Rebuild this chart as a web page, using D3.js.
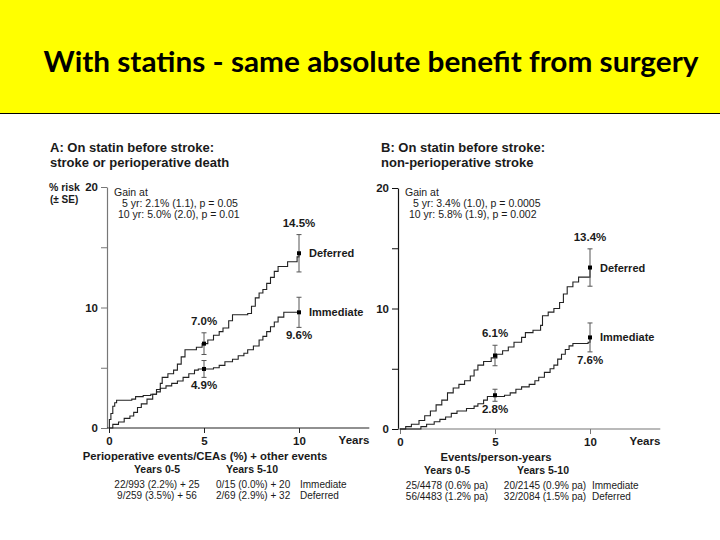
<!DOCTYPE html>
<html><head><meta charset="utf-8">
<script src="https://cdn.jsdelivr.net/npm/d3@7"></script>
<style>body{margin:0;background:#fff}svg{display:block}text{font-family:"Liberation Sans",Arial,sans-serif}</style>
</head><body><svg id="c" width="720" height="540"></svg>
<script>
// ---------- data ----------
const title = "With statins - same absolute benefit from surgery";
const xTicks = [0, 5, 10];
const yTicks = [0, 5, 10, 15, 20];
const yTickLabels = {0: "0", 10: "10", 20: "20"};
const markYears = [5, 10];

// Panel A: stroke or perioperative death (step curves, % risk by year)
const A_immediate = [[0,0],[0.02,0.7],[0.1,1.2],[0.2,1.8],[0.3,2.1],[0.4,2.3],[1.2,2.4],[1.4,2.6],[1.8,2.7],[2.2,2.8],[2.5,3.0],[2.7,3.3],[3.0,3.5],[3.3,3.7],[3.6,3.9],[3.9,4.2],[4.2,4.5],[4.5,4.8],[4.7,4.9],[5.5,5.0],[5.8,5.2],[6.1,5.5],[6.5,5.7],[6.8,6.0],[7.1,6.2],[7.3,6.5],[7.6,6.8],[7.9,7.3],[8.1,7.6],[8.3,8.0],[8.5,8.4],[8.7,8.8],[8.9,9.2],[9.2,9.6],[10,9.6]];
const A_deferred = [[0,0],[0.2,0.3],[0.5,0.5],[0.8,0.8],[1.1,1.0],[1.3,1.3],[1.5,1.7],[1.7,2.0],[2.0,2.4],[2.3,2.8],[2.5,3.2],[2.7,3.7],[2.8,4.2],[3.1,4.5],[3.4,4.8],[3.6,5.3],[3.8,5.9],[4.0,6.5],[4.6,6.7],[4.9,7.0],[5.2,7.3],[5.5,7.7],[5.8,8.0],[6.0,8.3],[6.3,8.9],[6.5,9.4],[7.3,9.5],[7.5,10.1],[7.7,10.8],[7.9,11.2],[8.1,11.5],[8.3,12.0],[8.5,12.5],[8.7,13.0],[8.9,13.4],[9.4,13.8],[9.9,14.2],[10,14.5]];
const A_defEst = [7.0, 14.5], A_defSE = [0.9, 1.55];
const A_immEst = [4.9, 9.6],  A_immSE = [0.7, 1.25];

// Panel B: non-perioperative stroke
const B_deferred = [[0,0],[0.3,0.2],[0.6,0.4],[1.0,0.7],[1.3,1.1],[1.6,1.5],[1.9,2.0],[2.2,2.4],[2.5,3.0],[2.8,3.4],[3.1,3.7],[3.4,4.0],[3.7,4.4],[3.9,4.9],[4.1,5.3],[4.4,5.6],[4.8,5.9],[5.1,6.2],[5.4,6.5],[5.7,6.8],[6.0,7.2],[6.4,7.6],[6.6,8.0],[7.0,8.2],[7.4,8.6],[7.5,9.4],[7.8,9.7],[8.1,10.0],[8.4,10.5],[8.6,11.2],[8.8,11.8],[9.1,12.2],[9.4,12.6],[9.9,12.6],[10,13.4]];
const B_immediate = [[0,0],[1.1,0.2],[1.4,0.4],[1.8,0.6],[2.1,0.8],[2.4,1.0],[2.7,1.3],[3.0,1.5],[3.5,1.7],[3.9,1.9],[4.1,2.1],[4.4,2.4],[4.6,2.7],[5.5,2.8],[5.8,3.0],[6.1,3.3],[6.4,3.5],[6.8,3.7],[7.1,4.0],[7.3,4.3],[7.6,4.7],[7.9,5.0],[8.1,5.3],[8.3,5.8],[8.5,6.2],[8.7,6.6],[8.9,6.9],[9.1,7.1],[9.9,7.2],[10,7.6]];
const B_defEst = [6.1, 13.4], B_defSE = [0.85, 1.55];
const B_immEst = [2.8, 7.6],  B_immSE = [0.5, 1.2];

const A_titleLines = ["A: On statin before stroke:", "stroke or perioperative death"];
const B_titleLines = ["B: On statin before stroke:", "non-perioperative stroke"];
const A_gain = ["Gain at", "5 yr: 2.1% (1.1), p = 0.05", "10 yr: 5.0% (2.0), p = 0.01"];
const B_gain = ["Gain at", "5 yr: 3.4% (1.0), p = 0.0005", "10 yr: 5.8% (1.9), p = 0.002"];
const A_footTitle = "Perioperative events/CEAs (%) + other events";
const B_footTitle = "Events/person-years";
const footCols = ["Years 0-5", "Years 5-10"];
const A_footRows = [["22/993 (2.2%) + 25", "0/15 (0.0%) + 20", "Immediate"], ["9/259 (3.5%) + 56", "2/69 (2.9%) + 32", "Deferred"]];
const B_footRows = [["25/4478 (0.6% pa)", "20/2145 (0.9% pa)", "Immediate"], ["56/4483 (1.2% pa)", "32/2084 (1.5% pa)", "Deferred"]];

// ---------- drawing ----------
const svg = d3.select("#c");
svg.append("rect").attr("x",0).attr("y",0).attr("width",720).attr("height",113).attr("fill","#ffff00");
svg.append("line").attr("x1",0).attr("x2",720).attr("y1",113.5).attr("y2",113.5).attr("stroke","#000").attr("stroke-width",1);
svg.append("text").attr("x",371).attr("y",72).attr("text-anchor","middle")
  .style("font-family","Lato, 'Open Sans', sans-serif").style("font-weight","bold").style("font-size","28px")
  .attr("textLength",655).attr("lengthAdjust","spacingAndGlyphs").attr("fill","#000").text(title);

function panel(cfg) {
  const g = svg.append("g");
  const x = d3.scaleLinear().domain([0,10]).range([cfg.x0, cfg.x0 + 190]);
  const y = d3.scaleLinear().domain([0,20]).range([cfg.y0, cfg.y0 - 241]);
  const ink = "#1a1a1a";
  // titles
  cfg.titleLines.forEach((t,i) => g.append("text").attr("x",cfg.tx).attr("y",152+i*15)
    .style("font-size","13px").style("font-weight","bold").attr("fill",ink).text(t));
  // y axis
  const ya = d3.axisLeft(y).tickValues(yTicks).tickSize(6).tickSizeOuter(0).tickFormat(d => yTickLabels[d] || "");
  const yg = g.append("g").attr("transform",`translate(${cfg.x0-2},0)`).call(ya);
  yg.select(".domain").attr("stroke",cfg.yAxisColor).attr("stroke-width",1.2);
  yg.selectAll(".tick line").attr("stroke",cfg.yAxisColor);
  yg.selectAll(".tick text").attr("x",-9).style("font-size","11.5px").style("font-weight","bold").style("font-family","'Liberation Sans',Arial").attr("fill",ink);
  // x axis
  const xs = d3.scaleLinear().domain([0,13.7]).range([cfg.x0, cfg.x0 + 13.7*19]);
  const xa = d3.axisBottom(xs).tickValues(xTicks).tickSize(5).tickSizeOuter(0);
  const xg = g.append("g").attr("transform",`translate(0,${cfg.y0})`).call(xa);
  xg.select(".domain").attr("stroke",cfg.xAxisColor).attr("stroke-width",1.2).attr("d",`M${cfg.x0-2},0H${xs(13.7)}`);
  xg.selectAll(".tick line").attr("stroke",cfg.xAxisColor);
  xg.selectAll(".tick text").attr("y",9).style("font-size","11.5px").style("font-weight","bold").style("font-family","'Liberation Sans',Arial").attr("fill",ink);
  g.append("text").attr("x",xs(13.7)).attr("y",cfg.y0+16).attr("text-anchor","end")
    .style("font-size","11.5px").style("font-weight","bold").attr("fill",ink).text("Years");
  if (cfg.yLabel) {
    g.append("text").attr("x",49).attr("y",191).style("font-size","10.5px").style("font-weight","bold").attr("fill",ink).text("% risk");
    g.append("text").attr("x",50).attr("y",203).style("font-size","10px").style("font-weight","bold").attr("fill",ink).text("(\u00B1 SE)");
  }
  // gain text
  const gx = [cfg.x0+5, cfg.x0+13, cfg.x0+9];
  cfg.gain.forEach((t,i) => g.append("text").attr("x",gx[i]).attr("y",196+i*11)
    .style("font-size","10.5px").attr("fill",ink).text(t));
  // curves
  const line = d3.line().x(d => x(d[0])).y(d => y(d[1])).curve(d3.curveStepAfter);
  [cfg.imm, cfg.def].forEach(s => g.append("path").attr("d",line(s)).attr("fill","none")
    .attr("stroke","#222").attr("stroke-width",1.1));
  // error bars + markers
  [[cfg.defEst,cfg.defSE],[cfg.immEst,cfg.immSE]].forEach(([est,se]) => {
    markYears.forEach((yr,i) => {
      const cx = x(yr);
      g.append("line").attr("x1",cx).attr("x2",cx).attr("y1",y(est[i]+se[i])).attr("y2",y(est[i]-se[i])).attr("stroke","#555").attr("stroke-width",1);
      [est[i]+se[i], est[i]-se[i]].forEach(v => g.append("line").attr("x1",cx-2.5).attr("x2",cx+2.5).attr("y1",y(v)).attr("y2",y(v)).attr("stroke","#555"));
      g.append("rect").attr("x",cx-2).attr("y",y(est[i])-2).attr("width",4).attr("height",4).attr("fill","#000");
    });
  });
  const lab = (t,xx,yy,anchor,size) => g.append("text").attr("x",xx).attr("y",yy).attr("text-anchor",anchor)
    .style("font-size",size).style("font-weight","bold").attr("fill",ink).text(t);
  // percentage labels
  lab(cfg.defEst[0].toFixed(1)+"%", x(5), y(cfg.defEst[0]+cfg.defSE[0])-8, "middle","11.5px");
  lab(cfg.defEst[1].toFixed(1)+"%", x(10), y(cfg.defEst[1]+cfg.defSE[1])-8, "middle","11.5px");
  lab(cfg.immEst[0].toFixed(1)+"%", x(5), y(cfg.immEst[0]-cfg.immSE[0])+12, "middle","11.5px");
  lab(cfg.immEst[1].toFixed(1)+"%", x(10), y(cfg.immEst[1]-cfg.immSE[1])+12, "middle","11.5px");
  lab("Deferred", x(10)+10, y(cfg.defEst[1])+4, "start","11px");
  lab("Immediate", x(10)+10, y(cfg.immEst[1])+4, "start","11px");
  // footer
  g.append("text").attr("x",cfg.footTitleX).attr("y",cfg.y0+32).attr("text-anchor","middle")
    .style("font-size","11.3px").style("font-weight","bold").attr("fill",ink).text(cfg.footTitle);
  footCols.forEach((t,i) => g.append("text").attr("x",cfg.colX[i]).attr("y",cfg.y0+45).attr("text-anchor","middle")
    .style("font-size","10.5px").style("font-weight","bold").attr("fill",ink).text(t));
  cfg.rows.forEach((r,j) => {
    r.forEach((t,i) => g.append("text").attr("x",cfg.cellX[i]).attr("y",cfg.y0+60+j*11)
      .attr("text-anchor",cfg.cellAnchor[i]).style("font-size","10px").attr("fill",ink).text(t));
  });
}

panel({x0:109, y0:428, tx:50, titleLines:A_titleLines, gain:A_gain, yLabel:true,
  yAxisColor:"#777", xAxisColor:"#222",
  imm:A_immediate, def:A_deferred, defEst:A_defEst, defSE:A_defSE, immEst:A_immEst, immSE:A_immSE,
  footTitle:A_footTitle, footTitleX:205, colX:[157,252], rows:A_footRows,
  cellX:[157,216,300], cellAnchor:["middle","start","start"]});
panel({x0:400, y0:429, tx:381, titleLines:B_titleLines, gain:B_gain, yLabel:false,
  yAxisColor:"#111", xAxisColor:"#777",
  imm:B_immediate, def:B_deferred, defEst:B_defEst, defSE:B_defSE, immEst:B_immEst, immSE:B_immSE,
  footTitle:B_footTitle, footTitleX:496, colX:[447,543], rows:B_footRows,
  cellX:[447,545,592], cellAnchor:["middle","middle","start"]});
</script></body></html>
